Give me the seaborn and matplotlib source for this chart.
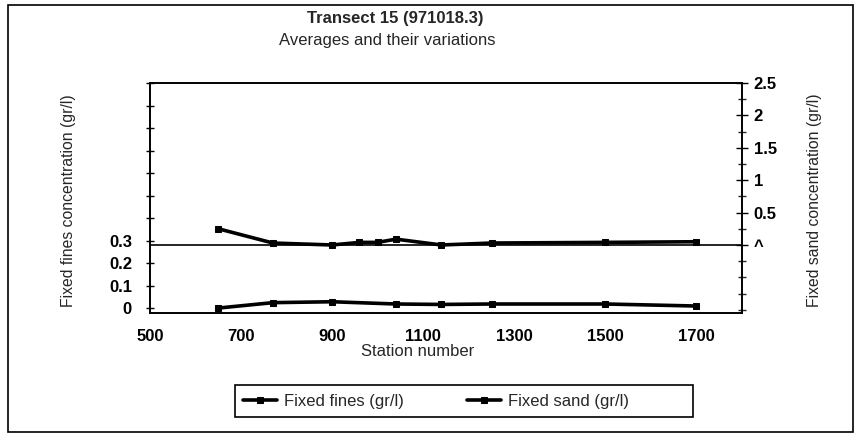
import matplotlib
matplotlib.use("Agg")
import matplotlib.pyplot as plt
import seaborn as sns
import pandas as pd
from matplotlib.patches import Rectangle
from matplotlib.ticker import MultipleLocator, FixedLocator

# data
fines_stations = [650, 770, 900, 1040, 1140, 1250, 1500, 1700]
fines_values = [0.0, 0.024, 0.028, 0.018, 0.016, 0.018, 0.018, 0.009]

sand_stations = [650, 770, 900, 960, 1000, 1040, 1140, 1250, 1500, 1700]
sand_values = [0.25, 0.03, 0.0, 0.04, 0.04, 0.09, 0.0, 0.03, 0.04, 0.05]

x_ticks = [500, 700, 900, 1100, 1300, 1500, 1700]
left_ticks = [0, 0.1, 0.2, 0.3]
left_labels = ['0', '0.1', '0.2', '0.3']
right_ticks = [0, 0.5, 1, 1.5, 2, 2.5]
right_labels = ['^', '0.5', '1', '1.5', '2', '2.5']

sns.set_style('white')
plt.rcParams['font.family'] = ['Liberation Sans', 'DejaVu Sans']

fines = pd.DataFrame({'station': fines_stations, 'value': fines_values})
sand = pd.DataFrame({'station': sand_stations, 'value': sand_values})

fig = plt.figure(figsize=(8.61, 4.40), dpi=100)
ax = fig.add_axes([150 / 861, 1 - 313 / 440, 592 / 861, 230 / 440])
ax2 = ax.twinx()

sns.lineplot(data=fines, x='station', y='value', ax=ax, color='black',
             linewidth=2.6, marker='s', markersize=5, markeredgecolor='black')
sns.lineplot(data=sand, x='station', y='value', ax=ax2, color='black',
             linewidth=2.6, marker='s', markersize=5, markeredgecolor='black')

ax.set_xlim(500, 1800)
ax.set_ylim(-0.022, 1.0)
ax2.set_ylim(-1.05, 2.5)
ax2.axhline(0, color='black', linewidth=1.2)

for a in (ax, ax2):
    for s in a.spines.values():
        s.set_color('black')
        s.set_linewidth(1.2)

ax.set_xticks(x_ticks)
ax.xaxis.set_minor_locator(MultipleLocator(100))
ax.set_yticks(left_ticks)
ax.set_yticklabels(left_labels)
ax.yaxis.set_minor_locator(FixedLocator([0.4, 0.5, 0.6, 0.7, 0.8, 0.9, 1.0]))
ax2.set_yticks(right_ticks)
ax2.set_yticklabels(right_labels)
ax2.yaxis.set_minor_locator(MultipleLocator(0.25))

ax.tick_params(axis='x', which='both', direction='inout', length=7, width=1,
               labelsize=12, pad=8, colors='black')
ax.tick_params(axis='y', which='both', direction='inout', length=6, width=1,
               labelsize=12, pad=10, colors='black')
ax2.tick_params(axis='y', which='major', direction='inout', length=9, width=1,
                labelsize=12, pad=4, colors='black')
ax2.tick_params(axis='y', which='minor', direction='inout', length=6, width=1)
for lab in ax.get_xticklabels() + ax.get_yticklabels() + ax2.get_yticklabels():
    lab.set_fontweight('bold')

ax.set_xlabel('Station number', fontsize=12)
ax.xaxis.set_label_coords(0.452, -0.135)
ax.set_ylabel('Fixed fines concentration (gr/l)', fontsize=11.3)
ax.yaxis.set_label_coords(-0.125, 0.49)
ax2.set_ylabel('Fixed sand concentration (gr/l)', fontsize=11.3)
ax2.yaxis.set_label_coords(1.11, 0.49)

fig.text(395 / 861, 1 - 18 / 440, 'Transect 15 (971018.3)', ha='center',
         va='center', fontsize=12, fontweight='bold')
fig.text(387 / 861, 1 - 40 / 440, 'Averages and their variations',
         ha='center', va='center', fontsize=12)

handles = [ax.get_lines()[0], ax2.get_lines()[0]]
fig.legend(handles, ['Fixed fines (gr/l)', 'Fixed sand (gr/l)'],
           loc='center left', bbox_to_anchor=(243 / 861, 1 - 401 / 440),
           ncol=2, frameon=False, fontsize=12, handlelength=2.05,
           handletextpad=0.4, columnspacing=3.8, borderpad=0,
           borderaxespad=0)
# legend frame drawn by hand, the original has a wide empty right margin
fig.patches.append(Rectangle((235 / 861, 1 - 417 / 440), 458 / 861, 32 / 440,
                             transform=fig.transFigure, fill=False,
                             edgecolor='black', linewidth=1.2))

fig.patches.append(Rectangle((8 / 861, 1 - 432 / 440), 845 / 861, 427 / 440,
                             transform=fig.transFigure, fill=False,
                             edgecolor='black', linewidth=1.2))

fig.savefig('out.png', dpi=100)
